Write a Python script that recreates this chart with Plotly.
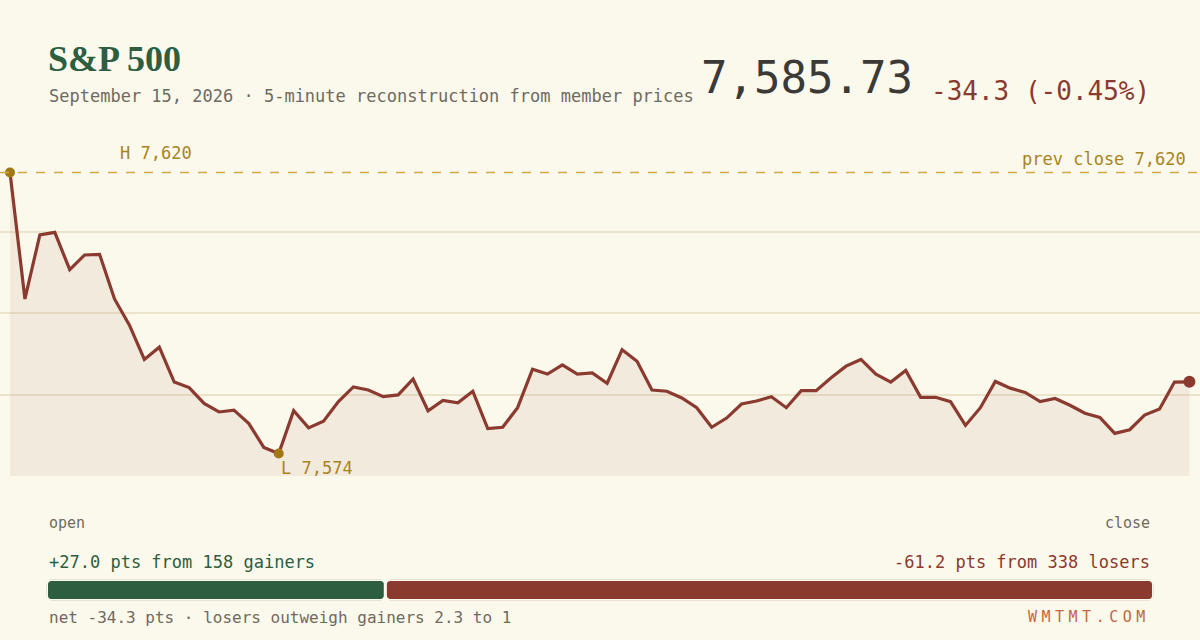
import plotly.graph_objects as go

# 5-minute index levels (open .. close)
prices = [
    7620.0, 7599.3, 7609.8, 7610.2, 7604.1, 7606.5, 7606.6, 7599.3, 7595.0, 7589.4,
    7591.4, 7585.7, 7584.8, 7582.2, 7580.8, 7581.1, 7578.9, 7575.0, 7574.0, 7581.0,
    7578.2, 7579.3, 7582.5, 7584.9, 7584.4, 7583.3, 7583.6, 7586.2, 7581.0, 7582.7,
    7582.3, 7584.2, 7578.1, 7578.3, 7581.5, 7587.8, 7587.0, 7588.5, 7587.0, 7587.2,
    7585.5, 7591.0, 7589.1, 7584.4, 7584.2, 7583.1, 7581.5, 7578.3, 7579.8, 7582.1,
    7582.6, 7583.3, 7581.5, 7584.3, 7584.3, 7586.4, 7588.3, 7589.4, 7587.0, 7585.7,
    7587.6, 7583.2, 7583.2, 7582.5, 7578.6, 7581.5, 7585.8, 7584.7, 7584.0, 7582.5,
    7583.0, 7581.9, 7580.6, 7579.9, 7577.3, 7577.9, 7580.3, 7581.3, 7585.7, 7585.73,
]
steps = list(range(len(prices)))
prev_close = 7620.0

# breadth split
breadth_labels = ["gainers", "losers"]
breadth_pts = [27.0, 61.2]
breadth_count = [158, 338]

BG = "#fbf8ec"
GREEN = "#2d5e3f"
RED = "#8b3a2f"
GOLD = "#a8851c"
GRAY = "#6f6a60"
MONO = "DejaVu Sans Mono"

hi = max(prices)
lo = min(prices)
i_hi = prices.index(hi)
i_lo = prices.index(lo)
last = prices[-1]
chg = last - prev_close
pct = chg / prev_close * 100

pad = (hi - lo) * 0.08
y0, y1 = lo - pad, hi + pad
grid = [y0 + k * (y1 - y0) / 4 for k in range(1, 4)]

fig = go.Figure()

fig.add_trace(go.Scatter(
    x=steps, y=prices, mode="lines",
    line=dict(color=RED, width=3.2),
    fill="tozeroy", fillcolor="rgba(139,58,47,0.07)",
    hoverinfo="skip",
))
# high / low / last markers
fig.add_trace(go.Scatter(
    x=[i_hi, i_lo], y=[hi, lo], mode="markers",
    marker=dict(color="#a07814", size=10), cliponaxis=False, hoverinfo="skip",
))
fig.add_trace(go.Scatter(
    x=[steps[-1]], y=[last], mode="markers",
    marker=dict(color=RED, size=12), cliponaxis=False, hoverinfo="skip",
))

# breadth bar: gainers grow left from the split, losers grow right
fig.add_trace(go.Bar(
    x=[-breadth_pts[0]], y=[0], base=[breadth_pts[0]], orientation="h",
    marker=dict(color=GREEN, cornerradius=5, line=dict(color=BG, width=3)),
    width=1, xaxis="x2", yaxis="y2", hoverinfo="skip",
))
fig.add_trace(go.Bar(
    x=[breadth_pts[1]], y=[0], base=[breadth_pts[0]], orientation="h",
    marker=dict(color=RED, cornerradius=5, line=dict(color=BG, width=3)),
    width=1, xaxis="x2", yaxis="y2", hoverinfo="skip",
))

fig.add_shape(type="line", xref="paper", x0=0, x1=1, yref="y", y0=prev_close, y1=prev_close,
              line=dict(color="#d2a843", width=1.5, dash="dash"))


def px(x):
    return x / 1200


def py(y):
    return 1 - y / 640


def note(text, x, y, anchor="left", size=17, color=GRAY, family=MONO):
    fig.add_annotation(text=text, x=px(x), y=py(y), xref="paper", yref="paper",
                       xanchor=anchor, yanchor="middle", showarrow=False,
                       font=dict(family=family, size=size, color=color))


note("<b>S&amp;P 500</b>", 46, 59, size=36, color=GREEN, family="Liberation Serif")
note("September 15, 2026 · 5-minute reconstruction from member prices", 47, 96)
note(f"{last:,.2f}", 915, 78, anchor="right", size=44, color="#3b3a36")
note(f"{chg:.1f} ({pct:.2f}%)", 1152, 91, anchor="right", size=26, color=RED)

fig.add_annotation(text=f"H {hi:,.0f}", x=i_hi, y=hi, xref="x", yref="y",
                   xanchor="left", yanchor="middle", xshift=108, yshift=19,
                   showarrow=False, font=dict(family=MONO, size=17, color=GOLD))
fig.add_annotation(text=f"L {lo:,.0f}", x=i_lo, y=lo, xref="x", yref="y",
                   xanchor="left", yanchor="middle", xshift=0, yshift=-14,
                   showarrow=False, font=dict(family=MONO, size=17, color=GOLD))
fig.add_annotation(text=f"prev close {prev_close:,.0f}", x=1, y=prev_close, xref="paper", yref="y",
                   xanchor="right", yanchor="middle", xshift=-12, yshift=13,
                   showarrow=False, font=dict(family=MONO, size=17, color=GOLD))

note("open", 47, 523, size=15)
note("close", 1152, 523, anchor="right", size=15)
note(f"+{breadth_pts[0]:.1f} pts from {breadth_count[0]} {breadth_labels[0]}", 47, 562, color=GREEN)
note(f"-{breadth_pts[1]:.1f} pts from {breadth_count[1]} {breadth_labels[1]}", 1152, 562,
     anchor="right", color=RED)
note("net -34.3 pts · losers outweigh gainers 2.3 to 1", 47, 617, size=16)
note('<span style="letter-spacing:4.5px">WMTMT.COM</span>', 1152, 617, anchor="right",
     size=15, color="#c4673f")

fig.update_layout(
    width=1200, height=640,
    margin=dict(l=0, r=0, t=0, b=0),
    paper_bgcolor=BG, plot_bgcolor=BG,
    showlegend=False, barmode="overlay",
    xaxis=dict(domain=[0, 1], range=[-0.67, 79.71], visible=False),
    yaxis=dict(domain=[py(476), py(150)], range=[y0, y1], tickvals=grid,
               showticklabels=False, ticks="", gridcolor="#ece3cb", gridwidth=1.5,
               zeroline=False, showline=False),
    xaxis2=dict(domain=[px(46.5), px(1153.5)], range=[0, sum(breadth_pts)], visible=False,
                anchor="y2"),
    yaxis2=dict(domain=[py(600.5), py(579.5)], range=[-0.5, 0.5], visible=False, anchor="x2"),
)

# page has a default 8px body margin; drop it so the figure sits at 0,0
fig.write_html("out.html", config={"displayModeBar": False},
               post_script="document.body.style.margin='0';")
